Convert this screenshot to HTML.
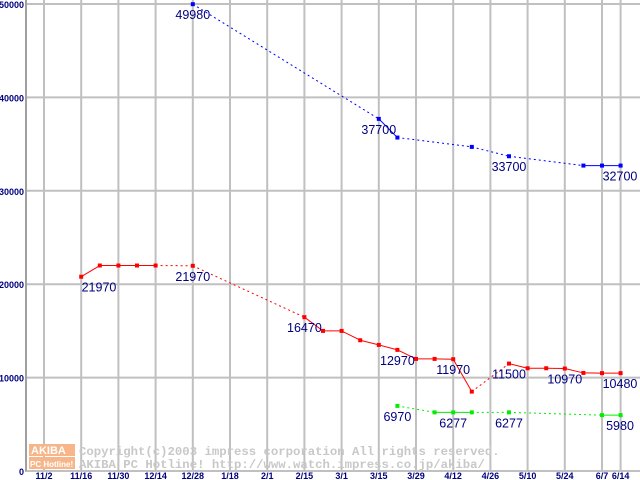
<!DOCTYPE html>
<html><head><meta charset="utf-8"><style>
body{margin:0;background:#fff}
svg{display:block}
text{font-family:"Liberation Sans",sans-serif}
text.mono{font-family:"Liberation Mono",monospace}
</style></head><body>
<svg id="c" width="640" height="480">
<g id="grid"></g>
<g id="wm">
<rect x="29" y="444" width="46" height="12" fill="#f7b58a"/>
<rect x="29" y="457" width="46" height="12" fill="#f7b58a"/>
<text x="31" y="454" font-size="11" font-weight="bold" fill="#fff">AKIBA</text>
<text x="30" y="467" font-size="8" font-weight="bold" fill="#fff">PC Hotline!</text>
<text class="mono" x="79" y="455" font-size="12.3" font-weight="bold" fill="#c8c8c8">Copyright(c)2003 impress corporation All rights reserved.</text>
<text class="mono" x="79" y="468" font-size="12.3" font-weight="bold" fill="#c8c8c8">AKIBA PC Hotline!  http://www.watch.impress.co.jp/akiba/</text>
</g>
<g id="series"></g>
</svg>
<script>
const xLabels=["11/2","11/16","11/30","12/14","12/28","1/18","2/1","2/15","3/1","3/15","3/29","4/12","4/26","5/10","5/24","6/7","6/14"];
const xLabelWeeks=[0,2,4,6,8,10,12,14,16,18,20,22,24,26,28,30,31];
const yTicks=[0,10000,20000,30000,40000,50000];
const blueWeeks=[8,18,19,23,25,29,30,31];
const blueVals=[49980,37700,35700,34700,33700,32700,32700,32700];
const blueLabels=["49980","37700","","","33700","","","32700"];
const redWeeks=[2,3,4,5,6,8,14,15,16,17,18,19,20,21,22,23,25,26,27,28,29,30,31];
const redVals=[20800,22000,22000,22000,22000,21970,16470,15000,15000,14000,13500,12970,12000,12000,11970,8500,11500,11000,11000,10970,10500,10480,10480];
const redLabels=["21970","","","","","21970","16470","","","","","12970","","","11970","","11500","","","10970","","","10480"];
const greenWeeks=[19,21,22,23,25,30,31];
const greenVals=[6970,6277,6277,6277,6277,5980,5980];
const greenLabels=["6970","","6277","","6277","","5980"];
const NS="http://www.w3.org/2000/svg";
const X=w=>44+w*18.6;
const Y=v=>471-v*0.00934;
function mk(t,a,p){const e=document.createElementNS(NS,t);for(const k in a)e.setAttribute(k,a[k]);p.appendChild(e);return e;}
const g=document.getElementById('grid');
xLabelWeeks.forEach((w,i)=>{
 const l=mk('line',{x1:X(w),x2:X(w),y1:0,y2:471,stroke:'#c0c0c0','stroke-width':2},g);
 
 
 const t=mk('text',{x:X(w),y:479,'text-anchor':'middle','font-size':9,'font-weight':'bold',fill:'#000080'},g);
 t.textContent=xLabels[i];
 
 
});
yTicks.forEach(v=>{
 const l=mk('line',{x1:25,x2:640,y1:Y(v),y2:Y(v),stroke:'#c0c0c0','stroke-width':2},g);
 
 
 const t=mk('text',{x:24,y:Y(v)+4,'text-anchor':'end','font-size':9,'font-weight':'bold',fill:'#000080'},g);
 t.textContent=v;
 
 
});
const ax=mk('line',{x1:26,x2:26,y1:0,y2:471,stroke:'#a0a0a0','stroke-width':2},g);


const s=document.getElementById('series');
function draw(name,weeks,vals,labels,color){
 const gg=mk('g',{},s);
 
 
 for(let i=1;i<weeks.length;i++){
  const a={x1:X(weeks[i-1]),y1:Y(vals[i-1]),x2:X(weeks[i]),y2:Y(vals[i]),stroke:color,'stroke-width':1};
  if(weeks[i]-weeks[i-1]>1)a['stroke-dasharray']='2,3';
  const l=mk('line',a,gg);
  
  
 }
 weeks.forEach((w,i)=>{
  const r=mk('rect',{x:X(w)-2,y:Y(vals[i])-2,width:4,height:4,fill:color},gg);
  
  
  if(labels[i]){
   let cx=Math.min(Math.max(X(w),99),620);
   const t=mk('text',{x:cx,y:Y(vals[i])+15,'text-anchor':'middle','font-size':12.5,fill:'#000080'},gg);
   t.textContent=labels[i];
   
   
  }
 });
}
draw('series-blue',blueWeeks,blueVals,blueLabels,'#0000ff');
draw('series-red',redWeeks,redVals,redLabels,'#ff0000');
draw('series-green',greenWeeks,greenVals,greenLabels,'#00ee00');
</script>
</body></html>
